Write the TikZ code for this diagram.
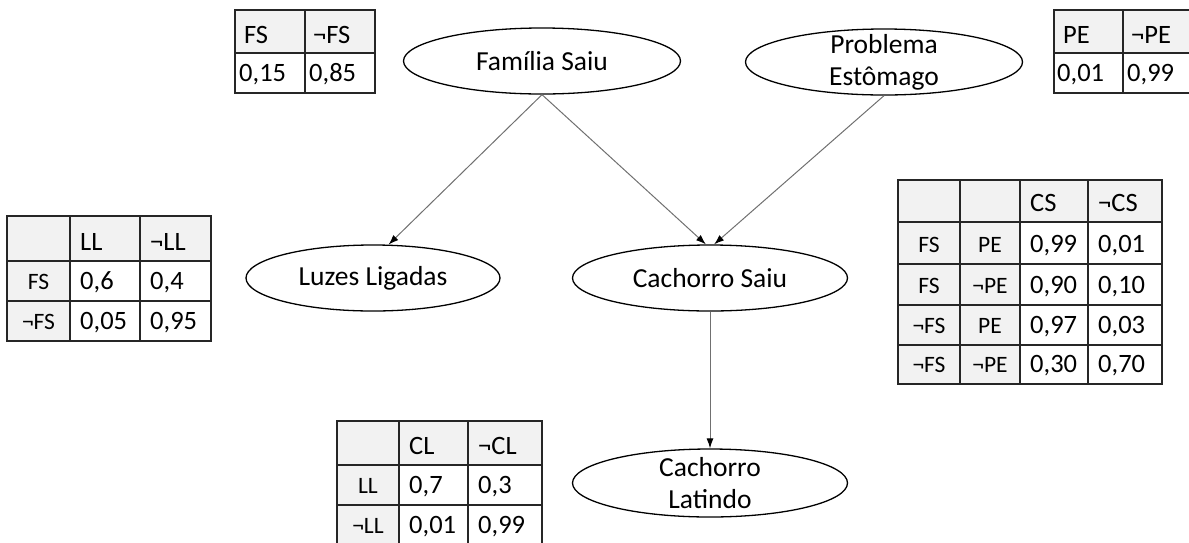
\documentclass[tikz,border=0pt]{standalone}
\usepackage{fontspec}
\setmainfont{Carlito}
\usepackage{xcolor}
\usetikzlibrary{shapes.geometric,arrows.meta}
\definecolor{cabgray}{HTML}{F2F2F2}
\definecolor{setagray}{HTML}{707070}

\begin{document}
\begin{tikzpicture}[x=1pt,y=-1pt,
	evento/.style={ellipse,draw,line width=1.3pt,minimum width=277pt,minimum height=66pt,inner sep=0pt,align=center,font=\fontsize{27.5}{32}\selectfont},
	duaslinhas/.style={inner ysep=-16pt},
	seta/.style={draw=setagray,line width=1pt,-{Latex[length=10pt,width=7pt,color=black]}},
	tabela/.style={line width=1.4pt,draw=black!85},
	cab/.style={fill=cabgray},
	txt/.style={anchor=base west,inner sep=0pt,font=\fontsize{26.5}{30}\selectfont},
	lin/.style={anchor=base,inner sep=0pt,font=\fontsize{23.5}{27}\selectfont}]
			\useasboundingbox (0,0) rectangle (1189,542);
			\clip (0,0) rectangle (1189,542);
			% nos da rede
			\node[evento] (familia) at (542,61) {Família Saiu};
			\node[evento,duaslinhas] (problema) at (884,62) {Problema\\Estômago};
			\node[evento,minimum width=254pt] (luzes) at (373,278) {Luzes Ligadas};
			\node[evento,minimum width=275pt] (cachorroS) at (710,278) {Cachorro Saiu};
			\node[evento,duaslinhas,minimum width=275pt,minimum height=68pt] (cachorroL) at (710,483) {Cachorro\\Latindo};
			\draw[seta] (familia.south) -- (luzes.65);
			\draw[seta] (familia.south) -- (cachorroS.97);
			\draw[seta] (problema.south) -- (cachorroS.83);
			\draw[seta] (cachorroS.south) -- (cachorroL.north);
			% tabela FS
			\fill[cab] (235,10) rectangle (375,53);
			\draw[tabela] (235,10) rectangle (375,93) (235,53) -- (375,53) (305,10) -- (305,93);
			\node[txt] (fs-a) at (244,43) {FS};
			\node[txt] (fs-b) at (313,43) {¬FS};
			\node[txt] (fs-pa) at (239,81) {0,15};
			\node[txt] (fs-pb) at (309,81) {0,85};
			% tabela PE
			\fill[cab] (1054,10) rectangle (1193,53);
			\draw[tabela] (1054,10) rectangle (1193,93) (1054,53) -- (1193,53) (1123,10) -- (1123,93);
			\node[txt] (pe-a) at (1063,43) {PE};
			\node[txt] (pe-b) at (1131,43) {¬PE};
			\node[txt] (pe-pa) at (1057,81) {0,01};
			\node[txt] (pe-pb) at (1127,81) {0,99};
			% tabela LL
			\fill[cab] (7,216) rectangle (211,261);
			\fill[cab] (7,261) rectangle (70,341);
			\draw[tabela] (7,216) rectangle (211,341) (7,261) -- (211,261) (7,301) -- (211,301) (70,216) -- (70,341) (140,216) -- (140,341);
			\node[txt] (ll-a) at (80,250) {LL};
			\node[txt] (ll-b) at (150,250) {¬LL};
			\node[lin] (ll-r1) at (38.5,289) {FS};
			\node[txt] (ll-r1a) at (80,289) {0,6};
			\node[txt] (ll-r1b) at (150,289) {0,4};
			\node[lin] (ll-r2) at (38.5,329) {¬FS};
			\node[txt] (ll-r2a) at (80,329) {0,05};
			\node[txt] (ll-r2b) at (150,329) {0,95};
			% tabela CS
			\fill[cab] (898,180) rectangle (1162,222);
			\fill[cab] (898,222) rectangle (1020,384);
			\draw[tabela] (898,180) rectangle (1162,384) (898,222) -- (1162,222) (898,264) -- (1162,264) (898,305) -- (1162,305) (898,345) -- (1162,345)
				(960,180) -- (960,384) (1020,180) -- (1020,384) (1088,180) -- (1088,384);
			\node[txt] (cs-a) at (1030,211) {CS};
			\node[txt] (cs-b) at (1098,211) {¬CS};
			\node[lin] (cs-r1f) at (929,252) {FS};
			\node[lin] (cs-r1p) at (990,252) {PE};
			\node[txt] (cs-r1a) at (1030,252) {0,99};
			\node[txt] (cs-r1b) at (1098,252) {0,01};
			\node[lin] (cs-r2f) at (929,293) {FS};
			\node[lin] (cs-r2p) at (990,293) {¬PE};
			\node[txt] (cs-r2a) at (1030,293) {0,90};
			\node[txt] (cs-r2b) at (1098,293) {0,10};
			\node[lin] (cs-r3f) at (929,333) {¬FS};
			\node[lin] (cs-r3p) at (990,333) {PE};
			\node[txt] (cs-r3a) at (1030,333) {0,97};
			\node[txt] (cs-r3b) at (1098,333) {0,03};
			\node[lin] (cs-r4f) at (929,372) {¬FS};
			\node[lin] (cs-r4p) at (990,372) {¬PE};
			\node[txt] (cs-r4a) at (1030,372) {0,30};
			\node[txt] (cs-r4b) at (1098,372) {0,70};
			% tabela CL
			\fill[cab] (337,421) rectangle (542,465);
			\fill[cab] (337,465) rectangle (399,545);
			\draw[tabela] (337,421) rectangle (542,545) (337,465) -- (542,465) (337,505) -- (542,505) (399,421) -- (399,545) (468,421) -- (468,545);
			\node[txt] (cl-a) at (409,454) {CL};
			\node[txt] (cl-b) at (478,454) {¬CL};
			\node[lin] (cl-r1) at (368,493) {LL};
			\node[txt] (cl-r1a) at (409,493) {0,7};
			\node[txt] (cl-r1b) at (478,493) {0,3};
			\node[lin] (cl-r2) at (368,533) {¬LL};
			\node[txt] (cl-r2a) at (409,533) {0,01};
			\node[txt] (cl-r2b) at (478,533) {0,99};
		\end{tikzpicture}
\end{document}
